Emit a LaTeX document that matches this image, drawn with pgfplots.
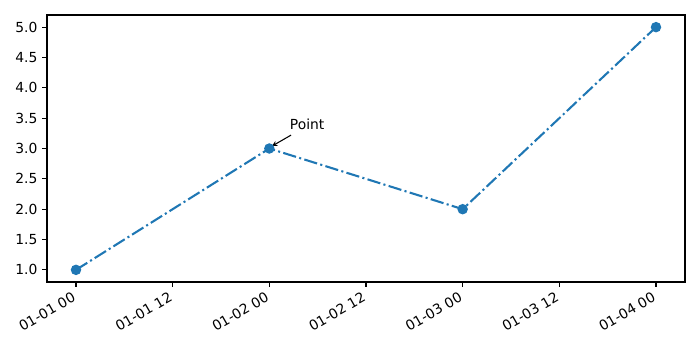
\documentclass[border=0pt]{standalone}
\usepackage{pgfplots}
\pgfplotsset{compat=1.18}
\usepackage{fontspec}
\setmainfont{DejaVu Sans}
\definecolor{mplblue}{HTML}{1F77B4}
\begin{document}
\begin{tikzpicture}
\useasboundingbox (-35.25pt,-51pt) rectangle (489.75pt,211.5pt);
\begin{axis}[
  scale only axis,
  width=478.5pt, height=200.25pt,
  xmin=-0.15, xmax=3.15, ymin=0.8, ymax=5.2,
  xtick={0,0.5,1,1.5,2,2.5,3},
  xticklabels={01-01 00,01-01 12,01-02 00,01-02 12,01-03 00,01-03 12,01-04 00},
  ytick={1,1.5,2,2.5,3,3.5,4,4.5,5},
  yticklabel style={/pgf/number format/.cd,fixed,fixed zerofill,precision=1},
  /pgf/number format/assume math mode=true,
  x tick label style={rotate=30,anchor=north east,inner sep=1pt,xshift=-3.5pt,yshift=0pt},
  tick label style={font=\fontsize{10.4}{12}\selectfont},
  tick align=outside, tick pos=left,
  major tick length=3.65pt,
  axis line style={line width=0.8pt},
  every tick/.style={black,line width=0.8pt},
  clip=false,
]
\addplot[color=mplblue, line width=1.56pt, dash pattern=on 10pt off 2.5pt on 1.56pt off 2.5pt,
  mark=*, mark size=3.1pt, mark options={solid, fill=mplblue, draw=mplblue}]
  coordinates {(0,1) (1,3) (2,2) (3,5)};
\node[anchor=base west, inner sep=0pt, font=\fontsize{10.4}{12}\selectfont] at (axis cs:1.105,3.32) {Point};
\draw[-stealth, line width=0.8pt] (axis cs:1.112,3.22) -- (axis cs:1.014,3.04);
\end{axis}
\end{tikzpicture}
\end{document}
